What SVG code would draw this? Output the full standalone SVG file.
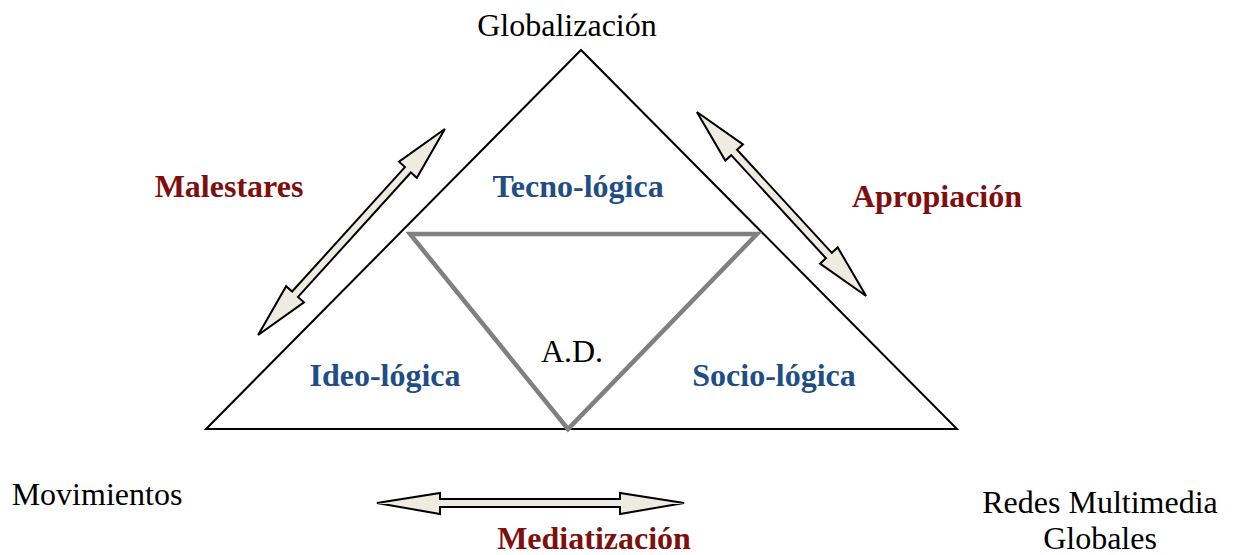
<svg xmlns="http://www.w3.org/2000/svg" width="1233" height="555" viewBox="0 0 1233 555">
<style>
.lbl{font-family:"Liberation Serif","Times New Roman",serif;fill:#000;font-size:32px}
.red{font-family:"Liberation Serif","Times New Roman",serif;font-weight:bold;fill:#7f0f0f;font-size:32px}
.blue{font-family:"Liberation Serif","Times New Roman",serif;font-weight:bold;fill:#1f4e86;font-size:32px}
.arr{fill:#eeece1;stroke:#000;stroke-width:2;stroke-linejoin:miter}
</style>
<rect width="1233" height="555" fill="#fff"/>
<g id="triangle-outer">
<polygon points="581,50 206,429 957,429" fill="none" stroke="#000" stroke-width="2"/>
</g>
<g id="triangle-inner">
<polygon points="410,234 757,234 568,429" fill="none" stroke="#808080" stroke-width="4.5" stroke-linejoin="miter"/>
<text class="lbl" x="572" y="362" text-anchor="middle" font-size="43">A.D.</text>
</g>
<g id="globalizacion"><text class="lbl" x="567" y="36" text-anchor="middle">Globalización</text></g>
<g id="tecno"><text class="blue" x="578" y="197" text-anchor="middle">Tecno-lógica</text></g>
<g id="ideo"><text class="blue" x="385" y="386" text-anchor="middle">Ideo-lógica</text></g>
<g id="socio"><text class="blue" x="774" y="386" text-anchor="middle">Socio-lógica</text></g>
<g id="movimientos"><text class="lbl" x="97" y="505" text-anchor="middle">Movimientos</text></g>
<g id="redes"><text class="lbl" x="1100" y="513" text-anchor="middle">Redes Multimedia</text><text class="lbl" x="1100" y="549" text-anchor="middle">Globales</text></g>
<g id="connectors">
<polygon class="arr" transform="translate(351.5,232) rotate(-47.8)" points="-139,0 -84,-12 -84,-4 84,-4 84,-12 139,0 84,12 84,4 -84,4 -84,12"/>
<polygon class="arr" transform="translate(781.5,204) rotate(47.4)" points="-125,0 -70,-12 -70,-4 70,-4 70,-12 125,0 70,12 70,4 -70,4 -70,12"/>
<polygon class="arr" points="377,503 440,493 440,499 620,499 620,493 684,503 620,514 620,507 440,507 440,514"/>
<text class="red" x="229" y="197" text-anchor="middle">Malestares</text>
<text class="red" x="937" y="207" text-anchor="middle">Apropiación</text>
<text class="red" x="594" y="549" text-anchor="middle">Mediatización</text>
</g>
</svg>
